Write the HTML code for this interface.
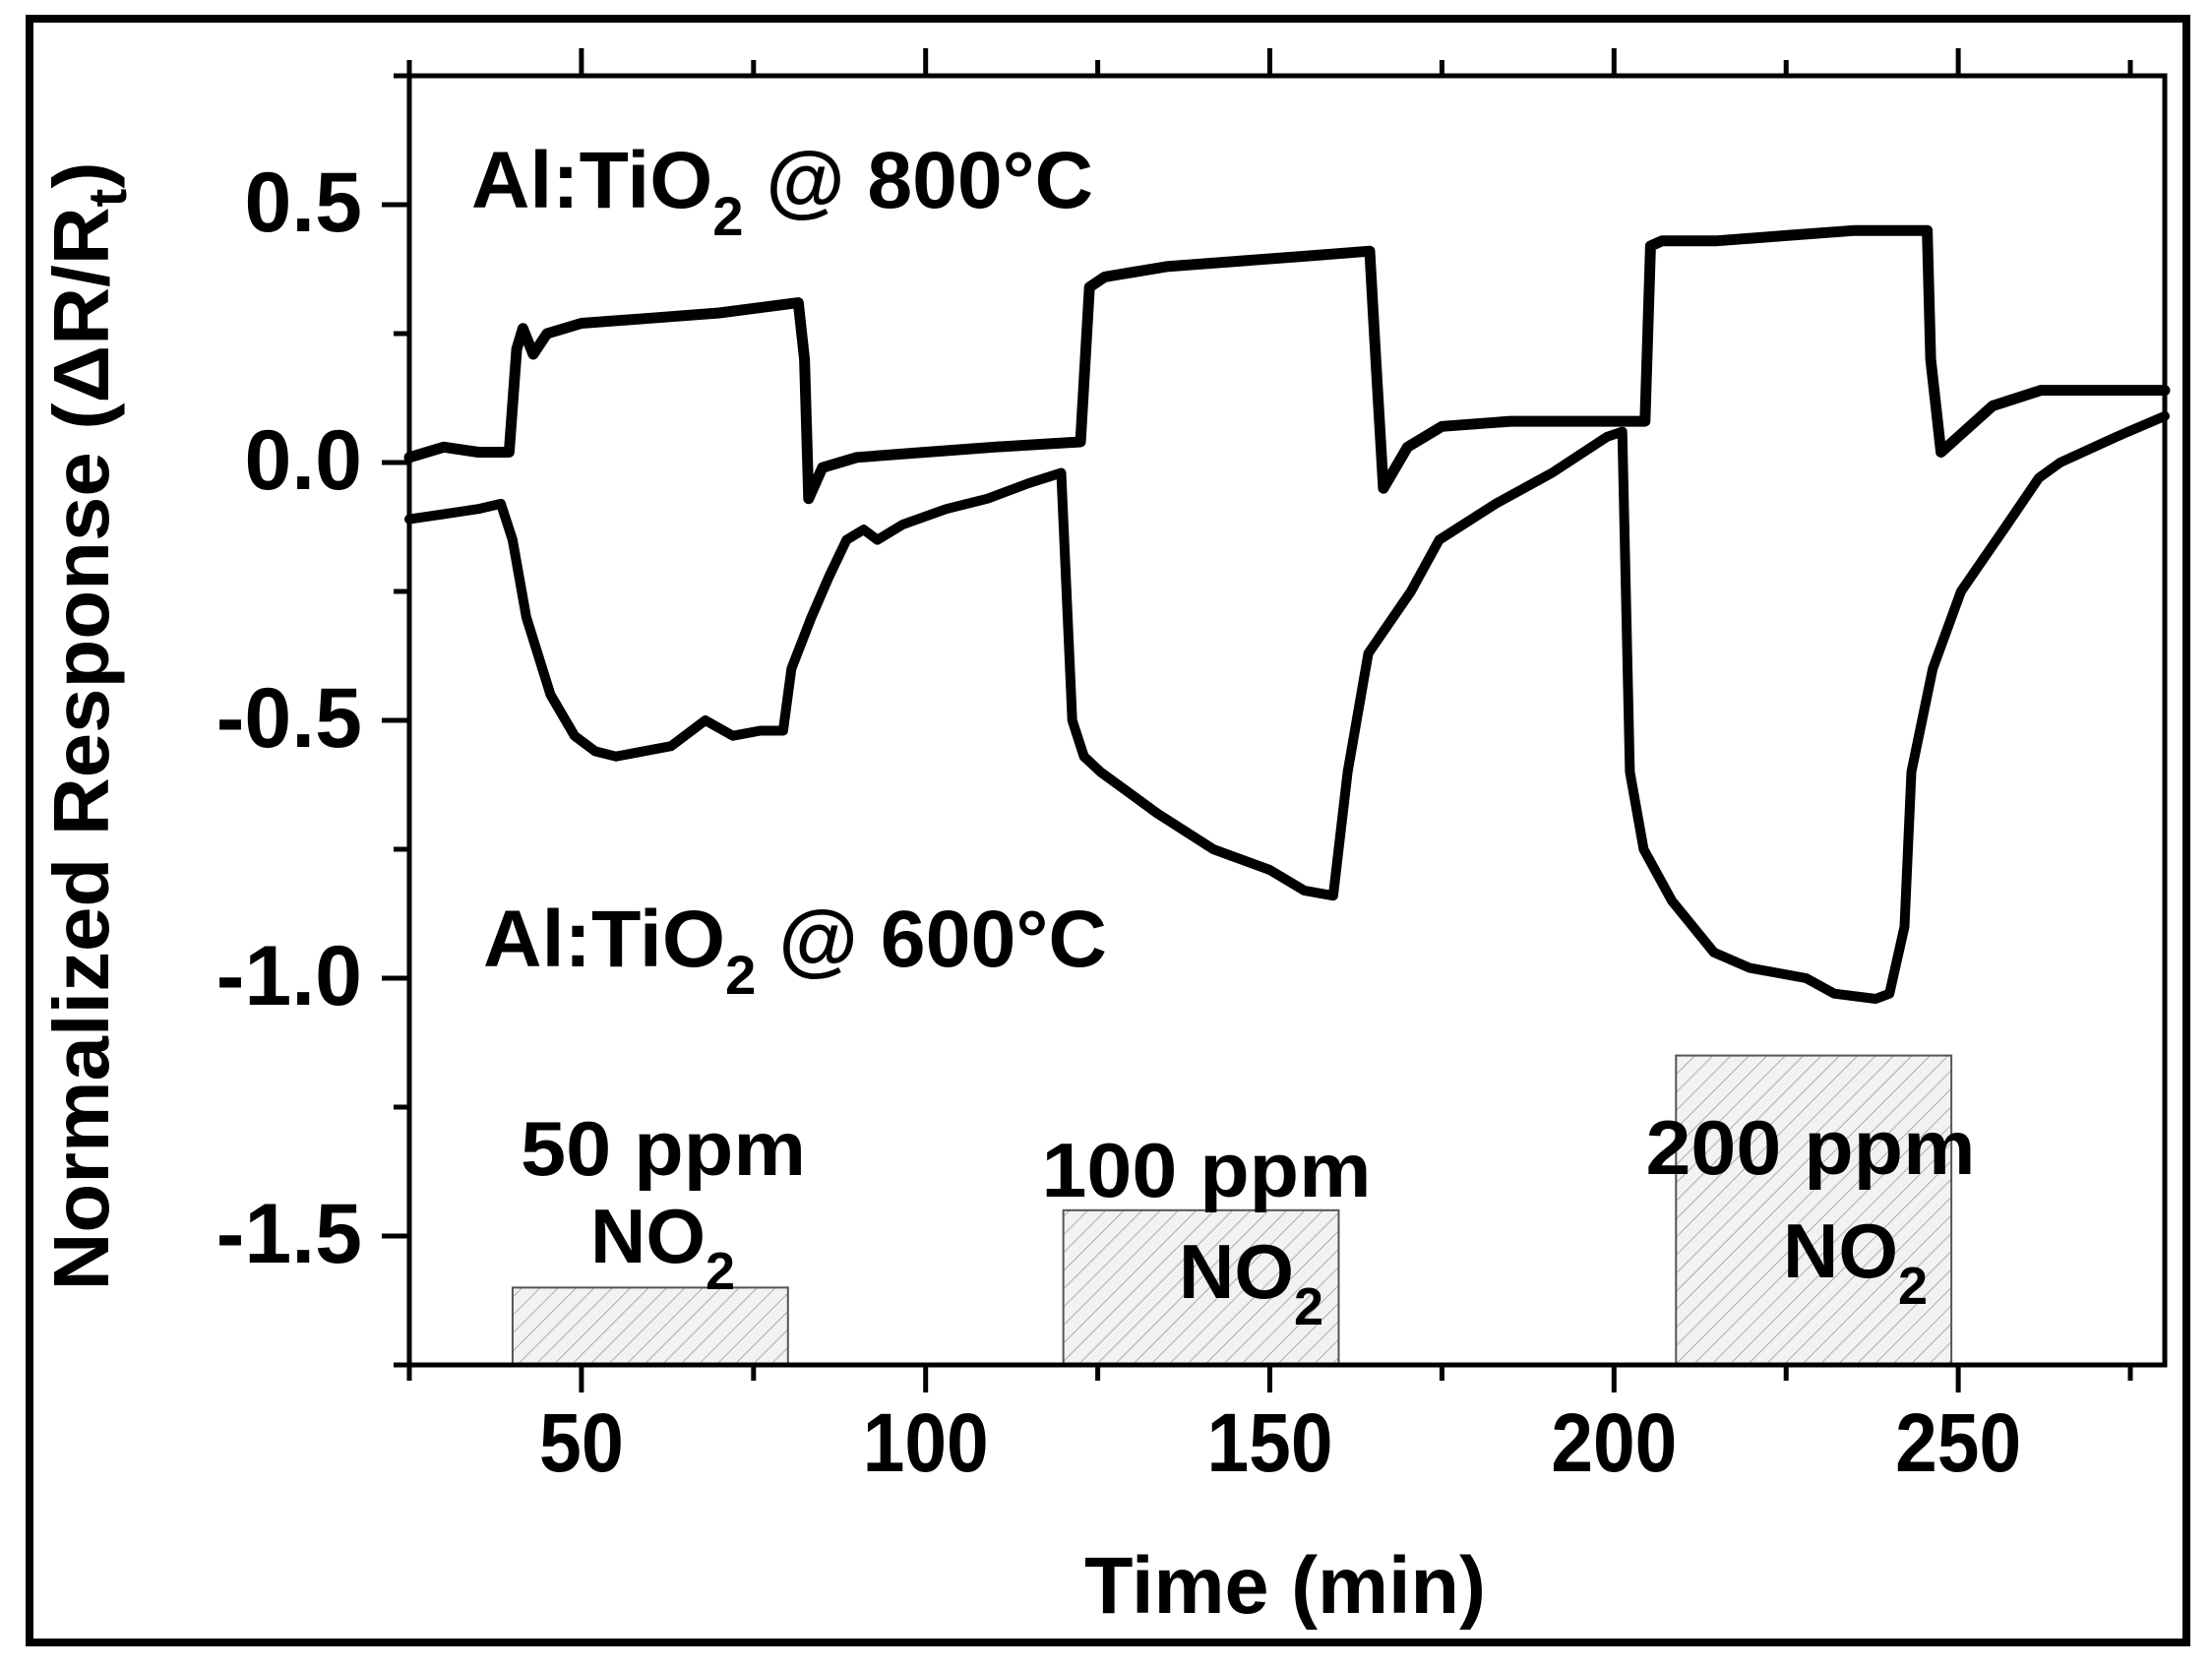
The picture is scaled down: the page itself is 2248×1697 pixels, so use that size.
<!DOCTYPE html>
<html><head><meta charset="utf-8"><style>
html,body{margin:0;padding:0;background:#fff;}
svg{display:block;}
text{font-family:"Liberation Sans",Arial,sans-serif;font-weight:bold;fill:#000;}
</style></head><body>
<svg id="chart" width="2248" height="1697" viewBox="0 0 2248 1697" xmlns="http://www.w3.org/2000/svg">
<defs>
<pattern id="hatch" patternUnits="userSpaceOnUse" width="13" height="13" patternTransform="rotate(45)">
<rect width="13" height="13" fill="#f2f2f2"/>
<line x1="0" y1="0" x2="0" y2="13" stroke="#9a9a9a" stroke-width="1.6"/>
</pattern>
</defs>
<rect x="30" y="19" width="2192" height="1650" fill="none" stroke="#000" stroke-width="8"/>
<g id="plot"></g>
</svg>
<script>
const xTicksMajor = [50, 100, 150, 200, 250];
const xTicksMinor = [25, 75, 125, 175, 225, 275];
const yTicksMajor = [0.5, 0.0, -0.5, -1.0, -1.5];
const yTickLabels = ["0.5", "0.0", "-0.5", "-1.0", "-1.5"];
const yTicksMinor = [0.75, 0.25, -0.25, -0.75, -1.25, -1.75];

const t800 = [25, 30, 35, 39.5, 40.6, 41.5, 43, 45, 50, 60, 70, 81.5, 82.4, 83, 85, 90, 100, 110, 122.5, 123.8, 126, 135, 145, 155, 164.5, 165.4, 166.5, 170, 175, 185, 195, 204.5, 205.3, 207, 215, 225, 235, 245.5, 246, 247.5, 250, 255, 262, 270, 280];
const r800 = [0.01, 0.03, 0.02, 0.02, 0.22, 0.26, 0.21, 0.25, 0.27, 0.28, 0.29, 0.31, 0.2, -0.07, -0.01, 0.01, 0.02, 0.03, 0.04, 0.34, 0.36, 0.38, 0.39, 0.40, 0.41, 0.2, -0.05, 0.03, 0.07, 0.08, 0.08, 0.08, 0.42, 0.43, 0.43, 0.44, 0.45, 0.45, 0.2, 0.02, 0.05, 0.11, 0.14, 0.14, 0.14];

const t600 = [25, 30, 35, 38.3, 40, 42, 45.5, 49, 52, 55, 59, 63, 68, 72, 76, 79.3, 80.5, 83.4, 86, 88.5, 91, 93, 96.7, 103, 109, 115, 119.7, 121.3, 123, 125.4, 133.6, 141.8, 150, 155, 159.2, 161.3, 164.3, 170.5, 174.6, 182.8, 191, 199, 201.2, 202.3, 204.3, 208.4, 214.5, 219.7, 227.9, 232, 238, 240, 242.2, 243.2, 246.3, 250.4, 256.6, 261.7, 264.8, 273, 280];
const r600 = [-0.11, -0.10, -0.09, -0.08, -0.15, -0.3, -0.45, -0.53, -0.56, -0.57, -0.56, -0.55, -0.5, -0.53, -0.52, -0.52, -0.4, -0.3, -0.22, -0.15, -0.13, -0.15, -0.12, -0.09, -0.07, -0.04, -0.02, -0.5, -0.57, -0.6, -0.68, -0.75, -0.79, -0.83, -0.84, -0.6, -0.37, -0.25, -0.15, -0.08, -0.02, 0.05, 0.06, -0.6, -0.75, -0.85, -0.95, -0.98, -1.0, -1.03, -1.04, -1.03, -0.9, -0.6, -0.4, -0.25, -0.13, -0.03, 0.0, 0.05, 0.09];

const boxStart = [40, 120, 209];
const boxEnd = [80, 160, 249];
const boxTop = [-1.6, -1.45, -1.15];

const X0 = 416, X1 = 2200, Y0 = 1387, Y1 = 77;
const xMin = 25, xMax = 280, yMin = -1.75, yMax = 0.75;
function sx(v){ return X0 + (v - xMin) / (xMax - xMin) * (X1 - X0); }
function sy(v){ return Y0 - (v - yMin) / (yMax - yMin) * (Y0 - Y1); }

const NS = "http://www.w3.org/2000/svg";
const g = document.getElementById("plot");
function mk(tag, attrs, parent){
  const e = document.createElementNS(NS, tag);
  for (const k in attrs) e.setAttribute(k, attrs[k]);
  (parent || g).appendChild(e);
  return e;
}

for (let i = 0; i < boxStart.length; i++) {
  const r = mk("rect", {x: sx(boxStart[i]), y: sy(boxTop[i]), width: sx(boxEnd[i]) - sx(boxStart[i]), height: Y0 - sy(boxTop[i]), fill: "url(#hatch)", stroke: "#555", "stroke-width": 2});
  
  
}

const frame = mk("rect", {x: X0, y: Y1, width: X1 - X0, height: Y0 - Y1, fill: "none", stroke: "#000", "stroke-width": 5});



for (const v of xTicksMajor) {
  const b = mk("line", {x1: sx(v), x2: sx(v), y1: Y0, y2: Y0 + 28, stroke: "#000", "stroke-width": 5});
  
  
  const t = mk("line", {x1: sx(v), x2: sx(v), y1: Y1, y2: Y1 - 28, stroke: "#000", "stroke-width": 5});
  
  
  const l = mk("text", {x: sx(v), y: 1495, "font-size": 84, "text-anchor": "middle", textLength: v >= 100 ? 128 : 86, lengthAdjust: "spacingAndGlyphs"});
  l.textContent = String(v);
  
  
}
for (const v of xTicksMinor) {
  const b = mk("line", {x1: sx(v), x2: sx(v), y1: Y0, y2: Y0 + 16, stroke: "#000", "stroke-width": 5});
  
  
  const t = mk("line", {x1: sx(v), x2: sx(v), y1: Y1, y2: Y1 - 16, stroke: "#000", "stroke-width": 5});
  
  
}
for (let i = 0; i < yTicksMajor.length; i++) {
  const v = yTicksMajor[i];
  const tk = mk("line", {x1: X0, x2: X0 - 28, y1: sy(v), y2: sy(v), stroke: "#000", "stroke-width": 5});
  
  
  const l = mk("text", {x: 368, y: sy(v) + 27, "font-size": 86, "text-anchor": "end"});
  l.textContent = yTickLabels[i];
  
  
}
for (const v of yTicksMinor) {
  const tk = mk("line", {x1: X0, x2: X0 - 16, y1: sy(v), y2: sy(v), stroke: "#000", "stroke-width": 5});
  
  
}

function pts(ts, rs){ return ts.map((t, i) => sx(t).toFixed(1) + "," + sy(rs[i]).toFixed(1)).join(" "); }
const l800 = mk("polyline", {points: pts(t800, r800), fill: "none", stroke: "#000", "stroke-width": 11, "stroke-linejoin": "round", "stroke-linecap": "round"});


const l600 = mk("polyline", {points: pts(t600, r600), fill: "none", stroke: "#000", "stroke-width": 10, "stroke-linejoin": "round", "stroke-linecap": "round"});


</script>
<svg style="position:absolute;left:0;top:0" width="2248" height="1697" viewBox="0 0 2248 1697" xmlns="http://www.w3.org/2000/svg">
<text x="479" y="211" font-size="82" textLength="632" lengthAdjust="spacingAndGlyphs">Al:TiO<tspan font-size="56" dy="28">2</tspan><tspan dy="-28"> @ 800°C</tspan></text>
<text x="491" y="982" font-size="82" textLength="634" lengthAdjust="spacingAndGlyphs">Al:TiO<tspan font-size="56" dy="28">2</tspan><tspan dy="-28"> @ 600°C</tspan></text>
<text x="674" y="1194" font-size="78" text-anchor="middle" textLength="290" lengthAdjust="spacingAndGlyphs">50 ppm</text>
<text x="600" y="1283" font-size="78">NO<tspan font-size="54" dy="27">2</tspan></text>
<text x="1226" y="1216" font-size="78" text-anchor="middle" textLength="335" lengthAdjust="spacingAndGlyphs">100 ppm</text>
<text x="1198" y="1319" font-size="78">NO<tspan font-size="54" dy="27">2</tspan></text>
<text x="1840" y="1193" font-size="78" text-anchor="middle" textLength="335" lengthAdjust="spacingAndGlyphs">200 ppm</text>
<text x="1812" y="1298" font-size="78">NO<tspan font-size="54" dy="27">2</tspan></text>
<text x="1306" y="1639" font-size="82" text-anchor="middle" textLength="408" lengthAdjust="spacingAndGlyphs">Time (min)</text>
<text transform="translate(110,738) rotate(-90)" x="0" y="0" font-size="80" text-anchor="middle" textLength="1147" lengthAdjust="spacingAndGlyphs">Normalized Response (ΔR/R<tspan font-size="55" dy="18">t</tspan><tspan dy="-18">)</tspan></text>
</svg>
</body></html>
